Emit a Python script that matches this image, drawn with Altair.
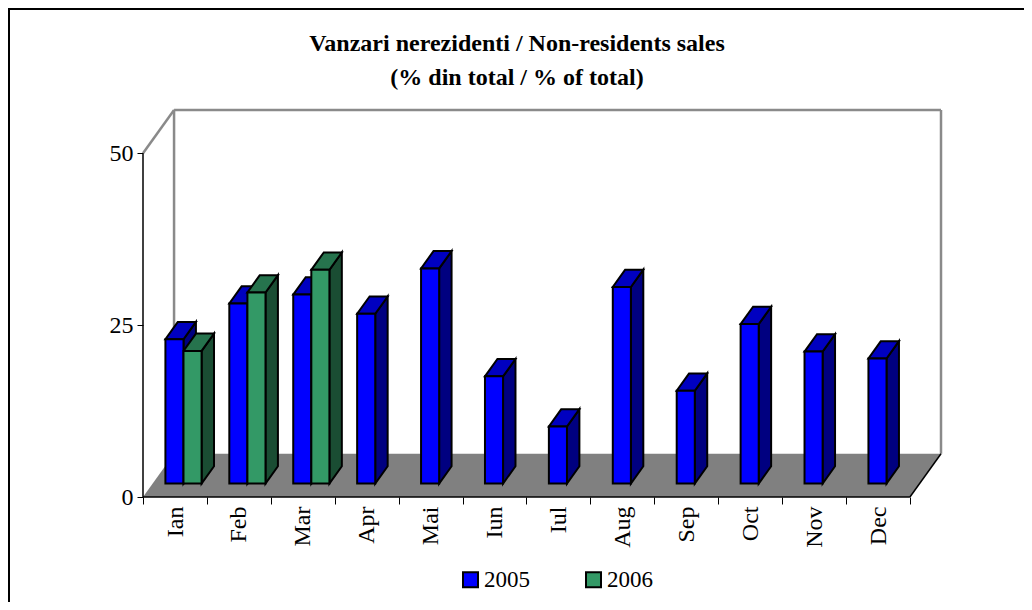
import altair as alt
import pandas as pd

# ---------------- data ----------------
months = ["Ian", "Feb", "Mar", "Apr", "Mai", "Iun", "Iul", "Aug", "Sep", "Oct", "Nov", "Dec"]
series = ["2005", "2006"]
sales_2005 = [21.0, 26.2, 27.5, 24.7, 31.3, 15.6, 8.3, 28.6, 13.5, 23.2, 19.2, 18.2]
sales_2006 = [19.3, 27.8, 31.1]
y_ticks = [0, 25, 50]

front_colors = ["#0000FF", "#339966"]
top_colors = ["#0000C0", "#26734D"]
side_colors = ["#000080", "#1A4D33"]

# ---------------- 3D geometry (in data units) ----------------
N = len(months)
Y_MAX = 50
DX = 0.486   # floor depth, category units
DY = 6.3     # floor depth, value units
F0 = 0.31    # depth fraction of bar front faces
FD = 0.40    # bar depth fraction
START = 0.2  # group start inside category
W = 0.283    # bar width (category units)
BDX, BDY = FD * DX, FD * DY

rows_front, rows_side, rows_top = [], [], []
for s, vals in enumerate([sales_2005, sales_2006]):
    for i, v in enumerate(vals):
        bid = f"{series[s]}-{i}"
        xl = i + F0 * DX + START + s * W
        xr = xl + W
        yb = F0 * DY
        yt = yb + v
        rows_front.append(dict(id=bid, series=series[s], month=months[i], value=v,
                               x=xl, x2=xr, y=yb, y2=yt))
        rows_side += [dict(id=bid, x=xr, y=yt, y2=yb, fill=side_colors[s]),
                      dict(id=bid, x=xr + BDX, y=yt + BDY, y2=yb + BDY, fill=side_colors[s])]
        rows_top += [dict(id=bid, y=yt, x=xl, x2=xr, fill=top_colors[s]),
                     dict(id=bid, y=yt + BDY, x=xl + BDX, x2=xr + BDX, fill=top_colors[s])]

df_front = pd.DataFrame(rows_front)
df_side = pd.DataFrame(rows_side)
df_top = pd.DataFrame(rows_top)

df_floor = pd.DataFrame([dict(y=0, x=0, x2=N), dict(y=DY, x=DX, x2=N + DX)])

df_wall = pd.DataFrame([
    dict(x=0, y=Y_MAX, x2=DX, y2=Y_MAX + DY),
    dict(x=DX, y=DY, x2=DX, y2=Y_MAX + DY),
    dict(x=DX, y=Y_MAX + DY, x2=N + DX, y2=Y_MAX + DY),
    dict(x=N + DX, y=DY, x2=N + DX, y2=Y_MAX + DY),
])
df_edges = pd.DataFrame([
    dict(x=0, y=0, x2=0, y2=Y_MAX),
    dict(x=0, y=0, x2=N, y2=0),
    dict(x=N, y=0, x2=N + DX, y2=DY),
])

# ---------------- scales ----------------
xs = alt.Scale(domain=[0, N + DX], nice=False, zero=False)
ys = alt.Scale(domain=[0, Y_MAX + DY], nice=False, zero=False)

FONT = "Liberation Serif"
label_expr = ("datum.value < %d ? [%s][datum.value] : ''"
              % (N, ",".join("'%s'" % m for m in months)))

x_axis = alt.Axis(values=list(range(N + 1)), domain=False, grid=False, ticks=True,
                  tickSize=7, tickColor="black", tickWidth=1,
                  labelExpr=label_expr, labelAngle=270, labelAlign="right",
                  labelBaseline="middle", labelOffset=32, labelPadding=2,
                  labelFlush=False, labelOverlap=False, labelFont=FONT,
                  labelFontSize=24, labelColor="black", title=None)
y_axis = alt.Axis(values=y_ticks, domain=False, grid=False, ticks=True,
                  tickSize=6, tickColor="black", tickWidth=1, labelPadding=4,
                  labelFlush=False, labelFont=FONT, labelFontSize=24,
                  labelColor="black", title=None)

# ---------------- layers ----------------
frame = alt.Chart(pd.DataFrame({"a": [0]})).mark_rect(
    fillOpacity=0, stroke="black", strokeWidth=2
).encode(x=alt.value(-134), x2=alt.value(2000), y=alt.value(-101), y2=alt.value(2000))

floor = alt.Chart(df_floor).mark_area(orient="horizontal", color="#808080").encode(
    y=alt.Y("y:Q", scale=ys, axis=y_axis),
    x=alt.X("x:Q", scale=xs, axis=x_axis, stack=False),
    x2="x2:Q",
)

wall = alt.Chart(df_wall).mark_rule(color="#8a8a8a", strokeWidth=2.5).encode(
    x=alt.X("x:Q", scale=xs), x2="x2:Q",
    y=alt.Y("y:Q", scale=ys), y2="y2:Q",
)

edges = alt.Chart(df_edges).mark_rule(color="black", strokeWidth=1.5).encode(
    x=alt.X("x:Q", scale=xs), x2="x2:Q",
    y=alt.Y("y:Q", scale=ys), y2="y2:Q",
)

side = alt.Chart(df_side).mark_area(stroke="black", strokeWidth=2, strokeJoin="miter").encode(
    x=alt.X("x:Q", scale=xs),
    y=alt.Y("y:Q", scale=ys, stack=False),
    y2="y2:Q",
    detail="id:N",
    fill=alt.Fill("fill:N", scale=None),
)

top = alt.Chart(df_top).mark_area(orient="horizontal", stroke="black", strokeWidth=2,
                                  strokeJoin="miter").encode(
    y=alt.Y("y:Q", scale=ys),
    x=alt.X("x:Q", scale=xs, stack=False),
    x2="x2:Q",
    detail="id:N",
    fill=alt.Fill("fill:N", scale=None),
)

front = alt.Chart(df_front).mark_rect(stroke="black", strokeWidth=2, opacity=1).encode(
    x=alt.X("x:Q", scale=xs), x2="x2:Q",
    y=alt.Y("y:Q", scale=ys), y2="y2:Q",
    color=alt.Color("series:N",
                    scale=alt.Scale(domain=series, range=front_colors),
                    legend=alt.Legend(orient="none", legendX=316, legendY=458,
                                      direction="horizontal", title=None,
                                      symbolType="square", symbolSize=225,
                                      symbolStrokeColor="black", symbolStrokeWidth=2,
                                      symbolOpacity=1,
                                      labelFont=FONT, labelFontSize=23,
                                      labelColor="black", labelOffset=2,
                                      columnPadding=52, padding=0)),
    tooltip=["month:N", "series:N", "value:Q"],
)

chart = alt.layer(frame, floor, wall, edges, side, top, front).properties(
    width=798,
    height=387,
    autosize=alt.AutoSizeParams(type="none"),
    padding={"left": 135, "top": 102, "right": 83, "bottom": 105},
    title=alt.TitleParams(
        text=["Vanzari nerezidenti / Non-residents sales", "(% din total / % of total)"],
        font=FONT, fontSize=24, fontWeight="bold", color="black",
        anchor="middle", frame="group", dx=-25, offset=-82, baseline="top",
        lineHeight=34,
    ),
).configure_view(stroke=None)

chart.save("out.html", embed_options={"renderer": "svg", "actions": False})
